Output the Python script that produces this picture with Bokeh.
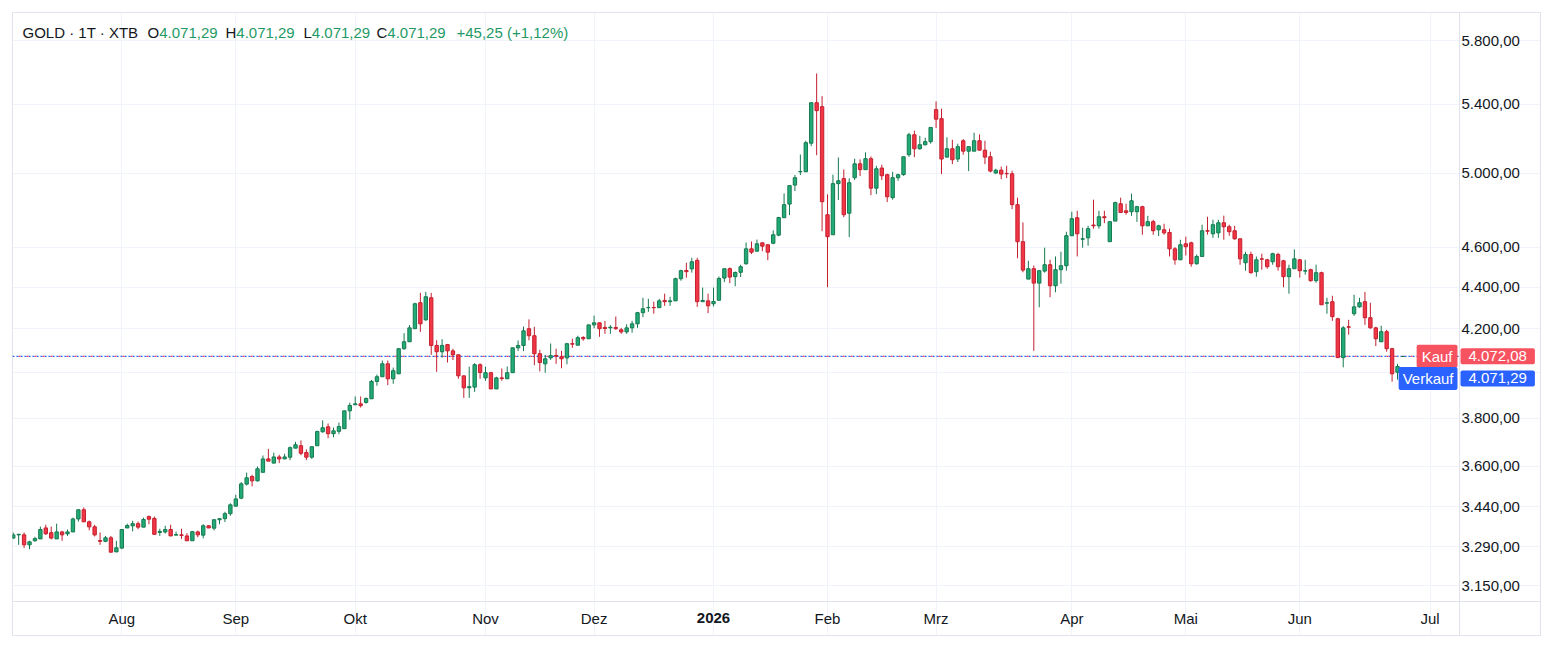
from bokeh.plotting import figure
from bokeh.models import (Range1d, FixedTicker, CustomJSTickFormatter, Label, ColumnDataSource)
from bokeh.embed import file_html
from bokeh.resources import INLINE

FONT = "Liberation Sans"
FS = "15px"

# Daily OHLC, Gold CFD (XTB), one entry per trading day
opens = [3322, 3334, 3334, 3297, 3312, 3319, 3360, 3342, 3319, 3345, 3338, 3345, 3394, 3429, 3383, 3364, 3313, 3310, 3323, 3271,
         3285, 3360, 3368, 3376, 3363, 3403, 3396, 3343, 3345, 3354, 3333, 3334, 3330, 3312, 3345, 3333, 3368, 3359, 3391, 3395,
         3414, 3443, 3474, 3529, 3559, 3542, 3576, 3630, 3613, 3638, 3630, 3637, 3674, 3684, 3656, 3637, 3684, 3742, 3763, 3734,
         3744, 3755, 3831, 3857, 3861, 3867, 3883, 3959, 3980, 4038, 3971, 3993, 4107, 4139, 4200, 4324, 4242, 4348, 4122, 4093,
         4126, 4097, 4079, 3984, 3931, 3934, 4034, 3975, 3998, 3926, 3975, 3971, 3998, 4111, 4122, 4200, 4167, 4084, 4038, 4065,
         4076, 4070, 4065, 4130, 4123, 4159, 4153, 4218, 4228, 4206, 4204, 4206, 4195, 4185, 4204, 4223, 4276, 4300, 4301, 4300,
         4335, 4329, 4333, 4442, 4483, 4491, 4534, 4329, 4333, 4319, 4336, 4445, 4492, 4452, 4474, 4517, 4593, 4581, 4624, 4614,
         4622, 4664, 4756, 4829, 4933, 5007, 5007, 5170, 5410, 5386, 4772, 4666, 4941, 4969, 4780, 4974, 5052, 5019, 5081, 4916,
         5028, 4991, 4864, 4974, 4991, 5104, 5219, 5138, 5161, 5179, 5368, 5314, 5090, 5138, 5079, 5184, 5124, 5124, 5184, 5130,
         5092, 5000, 5016, 4998, 4996, 4826, 4630, 4440, 4492, 4420, 4480, 4512, 4407, 4487, 4507, 4661, 4756, 4643, 4650, 4717,
         4713, 4761, 4630, 4738, 4831, 4793, 4788, 4788, 4815, 4713, 4735, 4692, 4692, 4678, 4593, 4537, 4619, 4624, 4517, 4554,
         4687, 4671, 4676, 4729, 4708, 4687, 4645, 4522, 4564, 4477, 4542, 4537, 4527, 4564, 4532, 4452, 4492, 4537, 4480, 4487,
         4432, 4472, 4322, 4329, 4247, 4066, 4209, 4271, 4304, 4329, 4252, 4204, 4139, 4186, 4107, 4000, 4071.29]
highs = [3343, 3338, 3343, 3312, 3327, 3365, 3372, 3365, 3376, 3349, 3354, 3399, 3429, 3438, 3388, 3372, 3343, 3330, 3330, 3312,
         3354, 3376, 3387, 3384, 3399, 3407, 3403, 3357, 3368, 3372, 3346, 3357, 3340, 3346, 3350, 3374, 3370, 3391, 3395, 3421,
         3454, 3487, 3537, 3575, 3566, 3599, 3644, 3671, 3656, 3647, 3651, 3681, 3700, 3706, 3669, 3680, 3747, 3790, 3777, 3760,
         3781, 3831, 3866, 3893, 3893, 3889, 3966, 3990, 4053, 4053, 4021, 4107, 4179, 4217, 4324, 4372, 4377, 4372, 4146, 4151,
         4129, 4107, 4079, 3984, 4025, 4041, 4040, 4025, 4002, 3980, 4017, 4026, 4111, 4145, 4210, 4244, 4209, 4102, 4079, 4131,
         4107, 4097, 4134, 4153, 4167, 4165, 4218, 4262, 4228, 4237, 4217, 4258, 4204, 4221, 4237, 4280, 4348, 4343, 4329, 4343,
         4368, 4353, 4447, 4487, 4522, 4547, 4547, 4398, 4368, 4398, 4453, 4492, 4498, 4478, 4512, 4626, 4631, 4641, 4626, 4617,
         4689, 4761, 4887, 4933, 4989, 5105, 5184, 5410, 5590, 5450, 4882, 4991, 5088, 5020, 4970, 5081, 5077, 5117, 5094, 5041,
         5047, 4996, 5007, 4996, 5092, 5231, 5243, 5213, 5202, 5262, 5418, 5374, 5204, 5190, 5167, 5194, 5150, 5231, 5221, 5184,
         5121, 5024, 5036, 5041, 5013, 4864, 4731, 4532, 4508, 4482, 4599, 4537, 4554, 4578, 4682, 4788, 4793, 4703, 4713, 4853,
         4793, 4793, 4735, 4842, 4864, 4831, 4886, 4820, 4820, 4766, 4745, 4719, 4724, 4698, 4602, 4640, 4656, 4630, 4564, 4719,
         4761, 4745, 4745, 4767, 4719, 4713, 4645, 4578, 4578, 4554, 4568, 4542, 4573, 4573, 4537, 4512, 4590, 4542, 4537, 4492,
         4512, 4477, 4348, 4358, 4252, 4212, 4242, 4363, 4348, 4377, 4324, 4209, 4214, 4195, 4111, 4038, 4071.29]
lows = [3319, 3297, 3285, 3281, 3309, 3319, 3334, 3317, 3319, 3312, 3330, 3345, 3384, 3383, 3351, 3328, 3297, 3307, 3268, 3271,
        3281, 3359, 3347, 3355, 3363, 3374, 3336, 3330, 3339, 3330, 3333, 3319, 3312, 3312, 3325, 3321, 3359, 3351, 3374, 3382,
        3406, 3443, 3470, 3524, 3520, 3539, 3576, 3621, 3613, 3613, 3630, 3625, 3674, 3645, 3625, 3630, 3684, 3738, 3715, 3719,
        3732, 3755, 3793, 3857, 3845, 3862, 3883, 3940, 3980, 3943, 3949, 3993, 4102, 4139, 4200, 4185, 4237, 4079, 4002, 4066,
        4044, 4055, 3971, 3887, 3887, 3913, 3971, 3962, 3926, 3926, 3962, 3971, 3998, 4096, 4096, 4146, 4032, 4004, 3998, 4056,
        4038, 4018, 4036, 4111, 4123, 4144, 4153, 4202, 4162, 4176, 4176, 4195, 4176, 4176, 4181, 4204, 4255, 4280, 4271, 4300,
        4309, 4309, 4333, 4432, 4447, 4472, 4304, 4329, 4274, 4306, 4336, 4425, 4420, 4405, 4450, 4512, 4566, 4581, 4581, 4535,
        4617, 4659, 4756, 4770, 4900, 4989, 5007, 5153, 5101, 4685, 4400, 4666, 4851, 4759, 4654, 4961, 4983, 5019, 4878, 4883,
        4961, 4840, 4853, 4957, 4985, 5092, 5090, 5132, 5157, 5167, 5258, 4994, 5087, 5050, 5062, 5104, 5011, 5124, 5130, 5050,
        5004, 4994, 4966, 4972, 4802, 4545, 4474, 4440, 4097, 4302, 4472, 4351, 4375, 4417, 4482, 4661, 4554, 4599, 4609, 4698,
        4698, 4727, 4630, 4738, 4784, 4772, 4766, 4734, 4666, 4713, 4666, 4659, 4666, 4554, 4512, 4537, 4559, 4502, 4512, 4554,
        4667, 4650, 4650, 4640, 4661, 4640, 4512, 4482, 4467, 4452, 4487, 4492, 4512, 4482, 4400, 4368, 4492, 4447, 4462, 4427,
        4422, 4314, 4271, 4237, 4066, 4022, 4172, 4261, 4300, 4218, 4200, 4119, 4139, 4093, 3958, 3967, 4071.29]
closes = [3334, 3336, 3297, 3308, 3320, 3354, 3338, 3322, 3345, 3334, 3345, 3394, 3429, 3383, 3364, 3334, 3310, 3323, 3270, 3286,
          3354, 3369, 3376, 3363, 3392, 3393, 3336, 3347, 3354, 3330, 3335, 3332, 3312, 3346, 3334, 3368, 3360, 3391, 3395, 3414,
          3448, 3471, 3530, 3554, 3542, 3590, 3630, 3621, 3638, 3630, 3638, 3676, 3688, 3653, 3637, 3680, 3743, 3759, 3734, 3746,
          3764, 3831, 3854, 3861, 3853, 3884, 3959, 3980, 4038, 3971, 4007, 4107, 4139, 4204, 4319, 4223, 4353, 4122, 4093, 4122,
          4097, 4079, 3984, 3931, 3936, 4034, 3999, 3998, 3926, 3975, 3972, 3998, 4111, 4122, 4190, 4167, 4084, 4044, 4061, 4075,
          4073, 4061, 4130, 4128, 4158, 4153, 4218, 4228, 4200, 4201, 4207, 4200, 4185, 4204, 4223, 4276, 4295, 4301, 4300, 4333,
          4329, 4333, 4442, 4482, 4477, 4527, 4329, 4335, 4309, 4330, 4443, 4492, 4450, 4473, 4502, 4593, 4576, 4619, 4607, 4576,
          4666, 4757, 4826, 4930, 4974, 5009, 5173, 5410, 5362, 4842, 4656, 4941, 4957, 4772, 4946, 5052, 5019, 5081, 4916, 5024,
          4985, 4869, 4974, 4991, 5092, 5219, 5138, 5161, 5179, 5262, 5311, 5079, 5138, 5075, 5150, 5124, 5150, 5184, 5130, 5090,
          5011, 5016, 4994, 4996, 4826, 4630, 4485, 4492, 4420, 4482, 4512, 4407, 4487, 4507, 4661, 4751, 4671, 4645, 4698, 4713,
          4761, 4756, 4735, 4837, 4784, 4784, 4847, 4815, 4713, 4735, 4687, 4713, 4676, 4593, 4537, 4614, 4604, 4517, 4554, 4687,
          4685, 4719, 4729, 4708, 4682, 4645, 4542, 4564, 4472, 4537, 4540, 4502, 4568, 4502, 4452, 4492, 4542, 4482, 4482, 4432,
          4472, 4314, 4324, 4257, 4066, 4204, 4207, 4304, 4324, 4252, 4204, 4153, 4186, 4107, 3993, 4026.04, 4071.29]

# Bar index of the first session of each month, and the axis text for it
month_ticks = [20, 41, 63, 87, 107, 129, 150, 170, 195, 216, 237, 261]
month_labels = ["Aug", "Sep", "Okt", "Nov", "Dez", "2026", "Feb", "Mrz", "Apr", "Mai", "Jun", "Jul"]
year_tick = 129

price_ticks = [3150, 3290, 3440, 3600, 3800, 4200, 4400, 4600, 5000, 5400, 5800]
grid_prices = [3150, 3290, 3440, 3600, 3800, 4000, 4200, 4400, 4600, 5000, 5400, 5800]

ask_price = 4072.08   # Kauf
bid_price = 4071.29   # Verkauf

# The frame covers the whole widget; price scale and time scale sit inside it
X0, X1 = -0.134, 281.34      # bar-index range across the widget
Y0, Y1 = 2978.6, 5985.0      # price range top to bottom of the widget
SCALE_X = 266.42             # bar-index position of the price-scale edge
TIME_Y = 3094.2              # price position of the time-scale edge

UP_FILL, UP_LINE = "#22ab76", "#15794f"
DN_FILL, DN_LINE = "#f23645", "#c41f2e"
UP_TEXT = "#1f9a66"
TXT = "#131722"
GRID = "#f0f3fa"
BORDER = "#e0e3eb"
ASK_COL = "#f7525f"
BID_COL = "#2962ff"


def de(v):
    s = f"{v:,.2f}"
    return s.replace(",", "X").replace(".", ",").replace("X", ".")


n = len(opens)
is_up = [c >= o for o, c in zip(opens, closes)]
src = ColumnDataSource(dict(
    x=list(range(n)),
    high=highs,
    low=lows,
    top=[max(o, c) for o, c in zip(opens, closes)],
    bottom=[min(o, c) for o, c in zip(opens, closes)],
    fill=[UP_FILL if u else DN_FILL for u in is_up],
    line=[UP_LINE if u else DN_LINE for u in is_up],
))

p = figure(width=1552, height=648,
           x_range=Range1d(X0, X1), y_range=Range1d(Y0, Y1),
           y_axis_type="log", y_axis_location="right",
           output_backend="svg", toolbar_location=None,
           min_border_left=12, min_border_top=12, min_border_right=12, min_border_bottom=13,
           background_fill_color="white", border_fill_color="white",
           outline_line_color=BORDER)

# grid, limited to the chart pane
p.xgrid.ticker = FixedTicker(ticks=month_ticks)
p.ygrid.ticker = FixedTicker(ticks=grid_prices)
p.xgrid.grid_line_color = GRID
p.ygrid.grid_line_color = GRID
p.xgrid.bounds = (TIME_Y, Y1)
p.ygrid.bounds = (X0, SCALE_X)

# current bid / ask lines
p.segment(x0=[X0], y0=[bid_price], x1=[SCALE_X], y1=[bid_price],
          line_color=BID_COL, line_width=1.25, line_dash="2 2")
p.segment(x0=[X0], y0=[ask_price], x1=[SCALE_X], y1=[ask_price],
          line_color=ASK_COL, line_width=1.25, line_dash="2 6", line_dash_offset=2)

# candles: wick first, body on top
p.segment(x0="x", y0="high", x1="x", y1="low", line_color="line", line_width=1, source=src)
p.vbar(x="x", width=0.62, top="top", bottom="bottom", fill_color="fill",
       line_color="line", line_width=1, source=src)

# time scale
xa = p.xaxis[0]
xa.fixed_location = TIME_Y
xa.ticker = FixedTicker(ticks=month_ticks)
xa.major_label_overrides = {t: ("" if t == year_tick else lab) for t, lab in zip(month_ticks, month_labels)}
xa.axis_line_color = BORDER
xa.major_tick_line_color = None
xa.minor_tick_line_color = None
xa.major_tick_out = 0
xa.major_tick_in = 0
xa.major_label_standoff = 8
xa.major_label_text_font = FONT
xa.major_label_text_font_size = FS
xa.major_label_text_color = TXT

p.add_layout(Label(x=year_tick, x_units="data", y=617, y_units="canvas", text="2026",
                   text_align="center", text_baseline="middle", text_font=FONT,
                   text_font_size=FS, text_font_style="bold", text_color=TXT))

# price scale
ya = p.yaxis[0]
ya.fixed_location = SCALE_X
ya.ticker = FixedTicker(ticks=price_ticks)
ya.formatter = CustomJSTickFormatter(code="""
    const parts = tick.toFixed(2).split('.');
    return parts[0].replace(/\\B(?=(\\d{3})+(?!\\d))/g, '.') + ',' + parts[1];
""")
ya.axis_line_color = BORDER
ya.major_tick_line_color = None
ya.minor_tick_line_color = None
ya.major_tick_out = 0
ya.major_tick_in = 0
ya.major_label_standoff = 2
ya.major_label_text_font = FONT
ya.major_label_text_font_size = FS
ya.major_label_text_color = TXT


# price tags at the scale edge
def tag(x, y, text, color, align, pad, y_off=0):
    p.add_layout(Label(x=x, x_units="canvas", y=y, y_units="data", y_offset=y_off,
                       text=text, text_align=align, text_baseline="middle",
                       text_font=FONT, text_font_size=FS, text_color="white",
                       background_fill_color=color, padding=pad, border_radius=2))


tag(1457, ask_price, "Kauf", ASK_COL, "right", (5, 3))
tag(1460, ask_price, de(ask_price), ASK_COL, "left", (8, 3))
tag(1457, bid_price, "Verkauf", BID_COL, "right", (4, 3), -22)
tag(1460, bid_price, de(bid_price), BID_COL, "left", (8, 3), -22)

# legend line at top-left
chg = closes[-1] - closes[-2]
pct = chg / closes[-2] * 100
HDR_Y = 32
pieces = [
    (22, "GOLD · 1T · XTB", TXT),
    (147, "O", TXT), (158.7, de(opens[-1]), UP_TEXT),
    (225, "H", TXT), (235.8, de(highs[-1]), UP_TEXT),
    (303, "L", TXT), (311.3, de(lows[-1]), UP_TEXT),
    (376, "C", TXT), (386.8, de(closes[-1]), UP_TEXT),
    (456, f"+{de(chg)} (+{de(pct)}%)", UP_TEXT),
]
for x, t, col in pieces:
    p.add_layout(Label(x=x, x_units="canvas", y=HDR_Y, y_units="canvas", text=t,
                       text_align="left", text_baseline="middle", text_font=FONT,
                       text_font_size=FS, text_color=col))

open("out.html", "w").write(file_html(p, INLINE))
